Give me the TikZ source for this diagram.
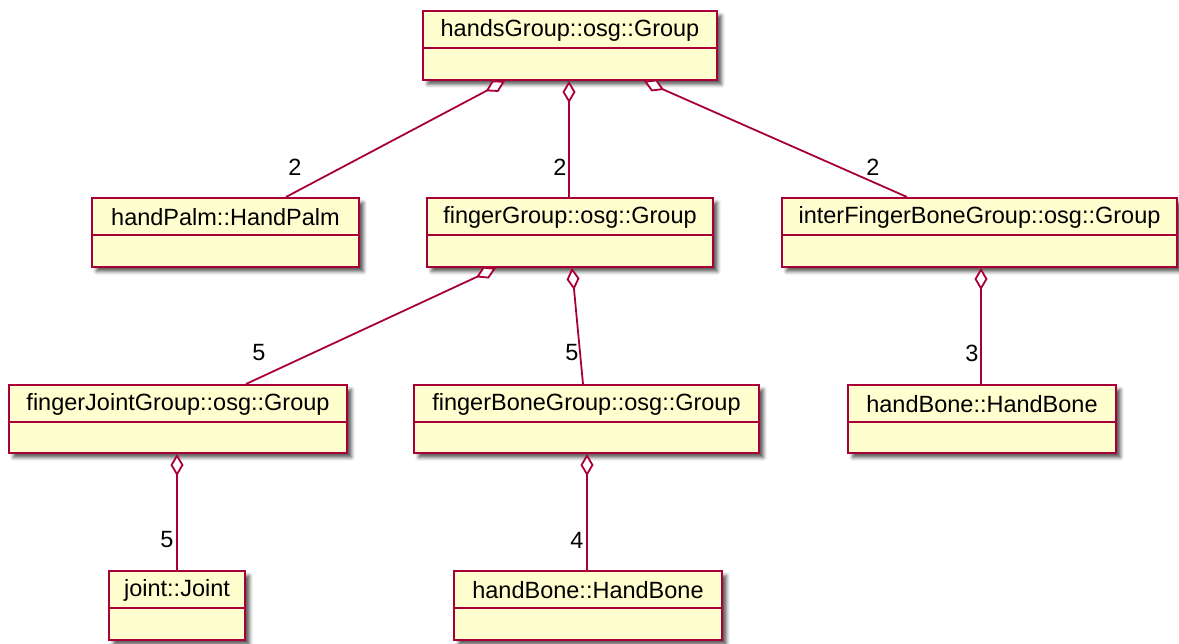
\documentclass[tikz,border=0pt]{standalone}
\usepackage{fontspec}
\setmainfont{Liberation Sans}
\usetikzlibrary{arrows.meta,shadows.blur}

\definecolor{umlborder}{HTML}{A80036}
\definecolor{umlfill}{HTML}{FEFECE}

\tikzset{
  classbox/.style={draw=umlborder, fill=umlfill, line width=2pt, inner sep=0pt,
    blur shadow={shadow xshift=4.5pt, shadow yshift=-4.5pt, shadow blur radius=3.5pt,
      shadow opacity=65}},
  classtitle/.style={inner sep=0pt, font=\fontsize{23.5}{28}\selectfont},
  classrule/.style={draw=umlborder, line width=2pt},
  assoc/.style={draw=umlborder, line width=1.8pt,
    {Diamond[open, fill=white, length=22pt, width=13pt, line width=1.8pt]}-},
  mult/.style={inner sep=0pt, font=\fontsize{23.5}{28}\selectfont},
}

% class box: name, left, top, right, bottom, title
\newcommand\umlclass[6]{%
  \node[classbox, minimum width={#4-#2}, minimum height={#5-#3}]
    (#1) at ({(#2+#4)/2},{(#3+#5)/2}) {};
  \node[classtitle] (#1-t) at ({(#2+#4)/2},{#3+19.5}) {#6};
  \draw[classrule] ([yshift=-38pt]#1.north west) -- ([yshift=-38pt]#1.north east);
}

\begin{document}
\begin{tikzpicture}[x=1pt, y=-1pt]
  \useasboundingbox (0,0) rectangle (1179,644);

  \umlclass{hands}{423}{11}{717}{80}{handsGroup::osg::Group}
  \umlclass{palm}{92}{198}{359}{267}{handPalm::HandPalm}
  \umlclass{finger}{427}{198}{713}{267}{fingerGroup::osg::Group}
  \umlclass{inter}{782}{198}{1177}{267}{interFingerBoneGroup::osg::Group}
  \umlclass{fjoint}{9}{385}{347}{453}{fingerJointGroup::osg::Group}
  \umlclass{fbone}{414}{385}{759}{453}{fingerBoneGroup::osg::Group}
  \umlclass{hboneA}{848}{385}{1116}{453}{handBone::HandBone}
  \umlclass{joint}{109}{571}{245}{640}{joint::Joint}
  \umlclass{hboneB}{454}{571}{722}{640}{handBone::HandBone}

  % aggregation links
  \draw[assoc] ([xshift=83pt]hands.south west) -- ([xshift=195pt]palm.north west);
  \draw[assoc] ([xshift=147pt]hands.south west) -- ([xshift=143pt]finger.north west);
  \draw[assoc] ([xshift=222pt]hands.south west) -- ([xshift=126pt]inter.north west);
  \draw[assoc] ([xshift=70pt]finger.south west) -- ([xshift=238pt]fjoint.north west);
  \draw[assoc] ([xshift=146pt]finger.south west) -- ([xshift=170pt]fbone.north west);
  \draw[assoc] ([xshift=200pt]inter.south west) -- ([xshift=134pt]hboneA.north west);
  \draw[assoc] ([xshift=169pt]fjoint.south west) -- ([xshift=69pt]joint.north west);
  \draw[assoc] ([xshift=174pt]fbone.south west) -- ([xshift=134pt]hboneB.north west);

  % multiplicities
  \node[mult] (m1) at (295,167) {2};
  \node[mult] (m2) at (560,167) {2};
  \node[mult] (m3) at (873,167) {2};
  \node[mult] (m4) at (259,353) {5};
  \node[mult] (m5) at (572,353) {5};
  \node[mult] (m6) at (972,353) {3};
  \node[mult] (m7) at (167,540) {5};
  \node[mult] (m8) at (577,540) {4};
\end{tikzpicture}
\end{document}
